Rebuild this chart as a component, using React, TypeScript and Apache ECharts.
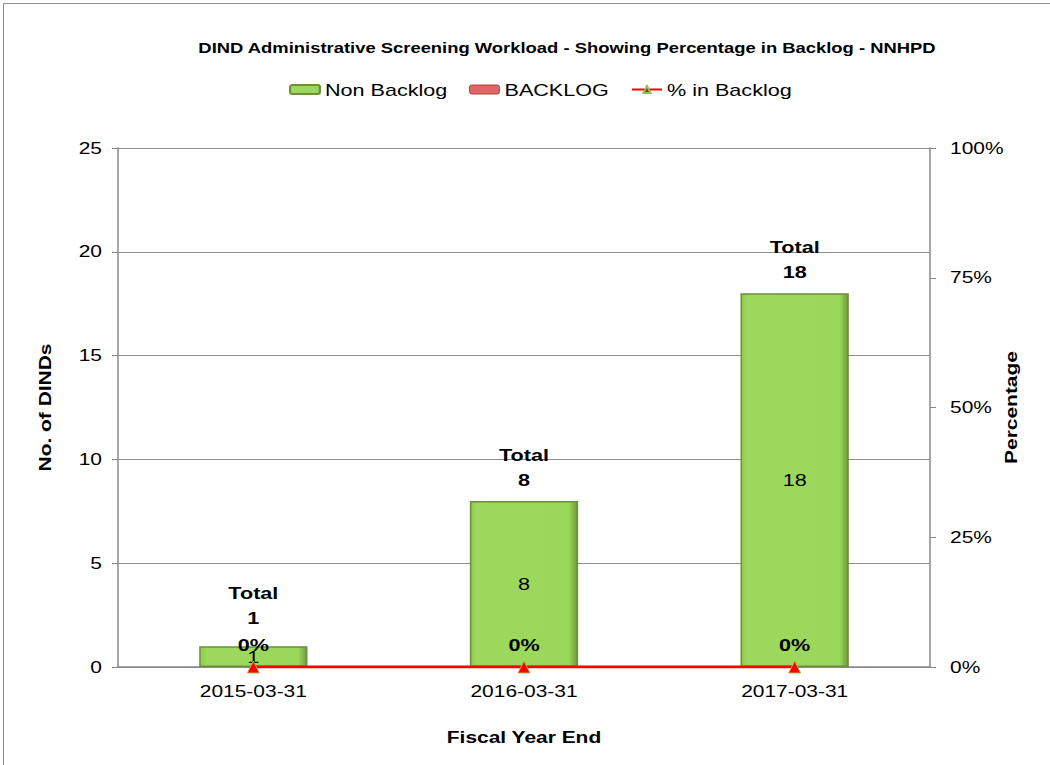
import React, { useEffect, useRef } from "react";
import * as echarts from "echarts";

const categories = ["2015-03-31", "2016-03-31", "2017-03-31"];
const nonBacklog = [1, 8, 18];
const backlog = [0, 0, 0];
const pctBacklog = [0, 0, 0];
const totals = [1, 8, 18];
const leftTicks = { min: 0, max: 25, interval: 5 };
const rightTicks = { min: 0, max: 1, interval: 0.25 };
const titleText = "DIND Administrative Screening Workload - Showing Percentage in Backlog - NNHPD";

const FONT = "'Liberation Sans', Arial, sans-serif";
// the reference's glyphs are wider than Arial at the same height
const STRETCH = 1.27;

export default function App() {
  const ref = useRef<HTMLDivElement>(null);
  useEffect(() => {
    document.body.style.margin = "0";
    const el = ref.current!;
    const chart = echarts.init(el, undefined, { renderer: "svg" });

    const stretchTexts = () => {
      el.querySelectorAll("text").forEach((t) => {
        const cur = t.getAttribute("transform") || "";
        if ((t as any).__stretched === cur && cur !== "") return;
        const x = parseFloat(t.getAttribute("x") || "0") || 0;
        const y = parseFloat(t.getAttribute("y") || "0") || 0;
        const next = `${cur} translate(${x} ${y}) scale(${STRETCH} 1) translate(${-x} ${-y})`;
        t.setAttribute("transform", next);
        (t as any).__stretched = next;
      });
    };

    const legendBase = {
      top: 76,
      itemWidth: 30,
      itemHeight: 9,
      textStyle: { fontFamily: FONT, fontSize: 17, color: "#000" },
    };

    chart.setOption({
      animation: false,
      backgroundColor: "#ffffff",
      textStyle: { fontFamily: FONT, color: "#000" },
      graphic: [
        {
          type: "rect",
          shape: { x: 3.5, y: 3.5, width: 1200, height: 1200 },
          style: { fill: "none", stroke: "#8c8c8c", lineWidth: 1 },
          silent: true,
        },
        {
          type: "text",
          x: 567,
          y: 48,
          style: {
            text: titleText,
            align: "center",
            verticalAlign: "middle",
            fontFamily: FONT,
            fontSize: 14.5,
            fontWeight: "bold",
            fill: "#000",
          },
          silent: true,
        },
      ],
      legend: [
        { ...legendBase, left: 284, data: ["Non Backlog"] },
        {
          ...legendBase,
          left: 464,
          data: [
            {
              name: "BACKLOG",
              itemStyle: { color: "#e06666", borderColor: "#a94444", borderWidth: 1 },
            },
          ],
        },
        { ...legendBase, left: 626, data: ["% in Backlog"] },
      ],
      grid: { left: 118, right: 120, top: 148, bottom: 98 },
      xAxis: {
        type: "category",
        data: categories,
        name: "Fiscal Year End",
        nameLocation: "middle",
        nameGap: 62,
        nameTextStyle: { fontFamily: FONT, fontSize: 16.5, fontWeight: "bold", color: "#000" },
        axisLine: { lineStyle: { color: "#888", width: 1.5 } },
        axisTick: { show: false },
        axisLabel: { fontFamily: FONT, fontSize: 16.5, color: "#000", margin: 16 },
      },
      yAxis: [
        {
          type: "value",
          min: leftTicks.min,
          max: leftTicks.max,
          interval: leftTicks.interval,
          name: "No. of DINDs",
          nameLocation: "middle",
          nameGap: 64,
          nameTextStyle: { fontFamily: FONT, fontSize: 16.5, fontWeight: "bold", color: "#000" },
          axisLine: { show: true, lineStyle: { color: "#888", width: 1.5 } },
          axisTick: { show: true, length: 6, lineStyle: { color: "#888" } },
          axisLabel: { fontFamily: FONT, fontSize: 16.5, color: "#000", margin: 16 },
          splitLine: { show: true, lineStyle: { color: "#8c8c8c", width: 1 } },
        },
        {
          type: "value",
          min: rightTicks.min,
          max: rightTicks.max,
          interval: rightTicks.interval,
          position: "right",
          name: "Percentage",
          nameLocation: "middle",
          nameRotate: 90,
          nameGap: 73,
          nameTextStyle: { fontFamily: FONT, fontSize: 16.5, fontWeight: "bold", color: "#000" },
          axisLine: { show: true, lineStyle: { color: "#888", width: 1.5 } },
          axisTick: { show: true, length: 6, lineStyle: { color: "#888" } },
          axisLabel: {
            fontFamily: FONT,
            fontSize: 16.5,
            color: "#000",
            margin: 20,
            formatter: (v: number) => Math.round(v * 100) + "%",
          },
          splitLine: { show: false },
        },
      ],
      series: [
        {
          name: "Non Backlog",
          type: "bar",
          stack: "total",
          barWidth: "40%",
          data: nonBacklog,
          itemStyle: {
            color: {
              type: "linear",
              x: 0,
              y: 0,
              x2: 1,
              y2: 0,
              colorStops: [
                { offset: 0, color: "#8fc94f" },
                { offset: 0.06, color: "#9dd95c" },
                { offset: 0.92, color: "#9bd75a" },
                { offset: 1, color: "#6f9b3a" },
              ],
            },
            borderColor: "#6b8f3b",
            borderWidth: 1.5,
          },
          label: {
            show: true,
            position: "inside",
            fontFamily: FONT,
            fontSize: 17,
            color: "#000",
          },
        },
        {
          name: "BACKLOG",
          type: "bar",
          stack: "total",
          barWidth: "40%",
          data: backlog.map((v, i) => ({
            value: v,
            label: { distance: i === 0 ? 16 : 9 },
          })),
          itemStyle: { color: "#e06666", borderWidth: 0 },
          label: {
            show: true,
            position: "top",
            fontFamily: FONT,
            fontSize: 17,
            fontWeight: "bold",
            lineHeight: 25,
            color: "#000",
            formatter: (p: any) => "Total\n" + totals[p.dataIndex],
          },
        },
        {
          name: "% in Backlog",
          type: "line",
          yAxisIndex: 1,
          data: pctBacklog,
          symbol: "triangle",
          symbolSize: 12,
          lineStyle: { color: "#ff0000", width: 3 },
          itemStyle: { color: "#ff0000", borderColor: "#9bbb59", borderWidth: 1 },
          label: {
            show: true,
            position: "top",
            distance: 7,
            fontFamily: FONT,
            fontSize: 17,
            fontWeight: "bold",
            color: "#000",
            formatter: (p: any) => Math.round(p.value * 100) + "%",
          },
          z: 5,
        },
      ],
    });
    stretchTexts();
    chart.on("finished", stretchTexts);
    const id = window.setTimeout(stretchTexts, 50);
    return () => {
      window.clearTimeout(id);
      chart.dispose();
    };
  }, []);
  return <div ref={ref} style={{ width: 1050, height: 765 }} />;
}
